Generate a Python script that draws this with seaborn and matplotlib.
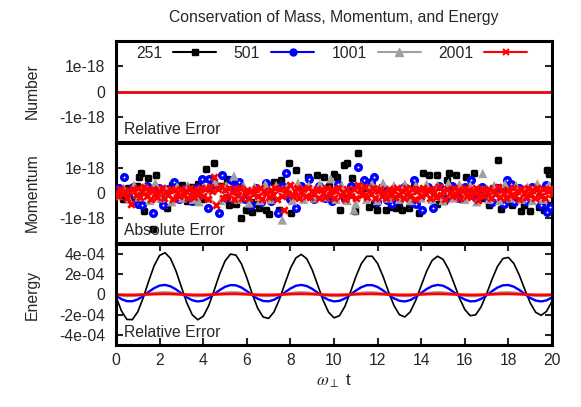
import numpy as np
import pandas as pd
import matplotlib
matplotlib.use("Agg")
import matplotlib.pyplot as plt
from matplotlib.lines import Line2D
import seaborn as sns

# ---------------- data ----------------
SERIES = ["251", "501", "1001", "2001"]
COLORS = {"251": "#000000", "501": "#0000ff", "1001": "#a0a0a0", "2001": "#ff0000"}

X_TICKS = [0, 2, 4, 6, 8, 10, 12, 14, 16, 18, 20]
MASS_TICKS = [-1e-18, 0, 1e-18]
MASS_TICK_LABELS = ["-1e-18", "0", "1e-18"]
ENERGY_TICKS = [-4e-4, -2e-4, 0, 2e-4, 4e-4]
ENERGY_TICK_LABELS = ["-4e-04", "-2e-04", "0", "2e-04", "4e-04"]

# Number (relative error): identically zero for all resolutions
NUMBER_T = [0, 20]
NUMBER_251 = [0.0, 0.0]
NUMBER_501 = [0.0, 0.0]
NUMBER_1001 = [0.0, 0.0]
NUMBER_2001 = [0.0, 0.0]

# Energy relative error, in units of 1e-4, sampled every 0.25
ENERGY_T = np.linspace(0, 20, 81)
ENERGY_251 = [-0.21, -1.63, -2.47, -2.49, -1.71, -0.32, 1.33, 2.85, 3.87, 4.13,
              3.57, 2.34, 0.74, -0.84, -2.01, -2.50, -2.16, -1.12, 0.40, 2.00,
              3.31, 4.00, 3.90, 3.05, 1.65, 0.05, -1.36, -2.23, -2.37, -1.72,
              -0.46, 1.10, 2.58, 3.62, 3.97, 3.54, 2.44, 0.95, -0.57, -1.75,
              -2.31, -2.10, -1.18, 0.22, 1.75, 3.04, 3.78, 3.79, 3.07, 1.79,
              0.29, -1.09, -2.00, -2.22, -1.71, -0.58, 0.88, 2.31, 3.37, 3.79,
              3.48, 2.52, 1.14, -0.32, -1.49, -2.10, -2.01, -1.21, 0.06, 1.51,
              2.78, 3.56, 3.67, 3.07, 1.92, 0.51, -0.83, -1.76, -2.06, -1.67,
              -0.66]
ENERGY_501 = [-0.11, -0.46, -0.66, -0.67, -0.48, -0.14, 0.26, 0.63, 0.88, 0.95,
              0.81, 0.51, 0.11, -0.28, -0.57, -0.69, -0.61, -0.35, 0.03, 0.43,
              0.76, 0.93, 0.91, 0.70, 0.34, -0.06, -0.42, -0.64, -0.68, -0.52,
              -0.19, 0.21, 0.59, 0.86, 0.95, 0.84, 0.56, 0.17, -0.23, -0.54,
              -0.68, -0.63, -0.39, -0.02, 0.38, 0.72, 0.92, 0.93, 0.74, 0.40,
              -0.01, -0.38, -0.62, -0.69, -0.55, -0.24, 0.15, 0.54, 0.83, 0.95,
              0.87, 0.60, 0.22, -0.18, -0.50, -0.68, -0.65, -0.43, -0.08, 0.33,
              0.69, 0.91, 0.94, 0.77, 0.45, 0.05, -0.33, -0.60, -0.69, -0.58,
              -0.29]
ENERGY_1001 = [-0.03, -0.11, -0.16, -0.16, -0.12, -0.04, 0.06, 0.15, 0.21, 0.23,
               0.20, 0.12, 0.03, -0.07, -0.14, -0.17, -0.15, -0.09, 0.01, 0.10,
               0.18, 0.23, 0.22, 0.17, 0.08, -0.02, -0.10, -0.16, -0.17, -0.13,
               -0.05, 0.05, 0.14, 0.21, 0.23, 0.20, 0.13, 0.04, -0.06, -0.13,
               -0.17, -0.16, -0.10, -0.01, 0.09, 0.17, 0.22, 0.22, 0.18, 0.10,
               0.00, -0.09, -0.15, -0.17, -0.14, -0.06, 0.04, 0.13, 0.20, 0.23,
               0.21, 0.15, 0.05, -0.05, -0.12, -0.17, -0.16, -0.11, -0.02, 0.08,
               0.17, 0.22, 0.23, 0.19, 0.11, 0.01, -0.08, -0.15, -0.17, -0.14,
               -0.07]
ENERGY_2001 = [-0.005, -0.026, -0.038, -0.039, -0.027, -0.007, 0.018, 0.041, 0.056, 0.060,
               0.052, 0.033, 0.009, -0.015, -0.033, -0.040, -0.035, -0.019, 0.004, 0.028,
               0.048, 0.059, 0.058, 0.045, 0.023, -0.002, -0.024, -0.037, -0.039, -0.029,
               -0.010, 0.015, 0.038, 0.054, 0.060, 0.053, 0.036, 0.012, -0.012, -0.031,
               -0.040, -0.036, -0.022, 0.001, 0.025, 0.046, 0.058, 0.059, 0.047, 0.026,
               0.002, -0.021, -0.036, -0.040, -0.031, -0.013, 0.011, 0.035, 0.053, 0.060,
               0.055, 0.039, 0.016, -0.009, -0.029, -0.039, -0.038, -0.024, -0.003, 0.022,
               0.044, 0.057, 0.059, 0.049, 0.029, 0.005, -0.018, -0.035, -0.040, -0.033,
               -0.016]

# Momentum absolute error, in units of 1e-18
MOM_251_T = [0.10, 0.30, 0.55, 0.75, 0.95, 1.06, 1.13, 1.29, 1.47, 1.60, 1.72, 1.85, 2.05,
             2.36, 2.59, 2.80, 3.05, 3.25, 3.43, 3.74, 3.95, 4.12, 4.30, 4.50, 4.80, 5.11,
             5.19, 5.50, 5.73, 5.95, 6.04, 6.20, 6.25, 6.50, 6.56, 6.87, 6.90, 7.02, 7.25,
             7.48, 7.55, 7.94, 8.01, 8.27, 8.50, 8.82, 9.05, 9.24, 9.54, 9.75, 10.00, 10.15,
             10.26, 10.46, 10.61, 10.81, 10.96, 11.11, 11.35, 11.60, 11.83, 11.99, 12.20,
             12.37, 12.60, 12.83, 12.98, 13.13, 13.44, 13.65, 13.90, 14.10, 14.36, 14.71,
             14.74, 15.05, 15.20, 15.28, 15.58, 15.85, 16.04, 16.42, 16.70, 16.90, 17.11,
             17.30, 17.54, 17.65, 17.90, 18.18, 18.56, 18.72, 18.99, 19.20, 19.40, 19.63,
             19.79, 19.86, 19.90]
MOM_251_V = [0.15, -0.25, 0.20, -0.30, 0.30, 0.64, 0.81, -0.70, 0.61, 0.20, -1.45, 0.71, -0.25,
             -0.61, 0.31, -0.20, 0.31, -0.30, 0.24, 0.37, -0.25, 0.95, 0.20, 1.21, 0.30, 0.57,
             -0.49, -0.43, -1.00, -0.68, -0.69, -0.36, -0.75, -0.43, -0.61, -0.68, 0.33, -0.83, 0.44,
             -0.69, 0.51, 1.21, -0.80, 0.91, 0.25, 0.64, -0.20, 0.71, 0.64, 0.30, 0.77, 0.64,
             -0.69, 1.11, 1.21, 0.60, -0.72, 1.61, 0.20, -0.56, -0.43, -0.69, 0.25,
             -0.69, -0.56, -0.61, -0.56, -0.68, -0.60, 0.25, -0.80, 0.81, 0.71, -0.43,
             0.71, -0.33, 0.51, 0.81, 0.72, -0.25, 0.64, 0.81, 0.15, -0.20, -0.49,
             0.20, 1.31, -0.63, 0.25, -0.48, -0.73, -0.49, -0.73, 0.20, -0.55, -0.69,
             0.91, 0.77, -0.49]

MOM_501_T = [0.15, 0.37, 0.60, 0.80, 1.00, 1.21, 1.40, 1.71, 1.95, 2.17, 2.40, 2.66, 2.90,
             3.20, 3.50, 3.75, 3.96, 4.23, 4.27, 4.50, 4.72, 4.88, 5.05, 5.26, 5.45, 5.64,
             5.90, 6.18, 6.40, 6.64, 6.87, 7.10, 7.45, 7.60, 7.78, 8.00, 8.24, 8.50, 8.85,
             9.08, 9.30, 9.60, 9.92, 10.20, 10.50, 10.80, 11.11, 11.38, 11.68, 11.83, 11.99,
             12.20, 12.45, 12.68, 12.98, 13.20, 13.52, 13.67, 13.75, 14.05, 14.30, 14.56,
             14.80, 15.10, 15.40, 15.70, 16.00, 16.27, 16.50, 16.80, 17.05, 17.26, 17.50,
             17.80, 17.95, 18.10, 18.26, 18.50, 18.80, 19.10, 19.48, 19.71, 19.79, 19.90]
MOM_501_V = [0.20, 0.65, -0.20, 0.25, -0.43, -0.49, 0.30, -0.79, 0.20, -0.49, 0.15, 0.44, -0.25,
             0.20, -0.30, 0.25, 0.55, -0.60, 0.57, 0.37, -0.79, 0.71, -0.20, 0.51, 0.25, 0.44,
             -0.25, -0.49, 0.20, -0.36, 0.41, -0.30, -0.79, 0.30, 0.81, -0.25, -0.60, 0.30, 0.57,
             -0.23, 0.30, -0.20, -0.33, 0.35, -0.25, 0.30, 1.04, 0.51, 0.44, 0.64, -0.36,
             0.20, -0.29, -0.43, -0.29, 0.25, -0.36, 0.51, -0.43, -0.69, 0.25, -0.60,
             0.30, -0.25, 0.30, -0.20, 0.25, 0.51, -0.20, 0.25, -0.25, -0.36, 0.20,
             -0.43, 0.51, 0.37, -0.36, 0.20, -0.30, 0.25, -0.49, 0.33, -0.76, -0.56]

MOM_1001_T = [0.10, 0.35, 0.60, 0.83, 1.05, 1.30, 1.55, 1.80, 2.05, 2.30, 2.55, 2.80, 3.05,
              3.30, 3.55, 3.81, 4.05, 4.30, 4.55, 4.80, 5.05, 5.41, 5.60, 5.85, 6.10, 6.35,
              6.60, 6.85, 7.10, 7.35, 7.63, 7.85, 8.10, 8.35, 8.60, 8.85, 9.10, 9.35, 9.60,
              9.85, 10.10, 10.35, 10.60, 10.92, 11.00, 11.25, 11.50, 11.75, 12.00, 12.25,
              12.50, 12.75, 13.00, 13.25, 13.50, 13.75, 14.00, 14.25, 14.50, 14.75, 15.00,
              15.25, 15.50, 15.75, 16.00, 16.25, 16.55, 16.82, 17.10, 17.35, 17.60, 17.85,
              18.10, 18.35, 18.60, 18.87, 19.10, 19.33, 19.60, 19.85]
MOM_1001_V = [-0.10, 0.20, -0.25, 0.31, -0.15, 0.25, -0.30, 0.40, -0.20, 0.15, -0.35, 0.25, -0.20,
              0.30, -0.25, -0.35, 0.25, -0.20, 0.45, -0.30, 0.30, 0.68, -0.25, 0.30, -0.40, 0.25,
              -0.30, 0.35, -0.25, 0.30, -1.08, 0.25, -0.30, 0.40, -0.25, 0.30, -0.20, 0.35, -0.15,
              0.57, -0.25, 0.30, -0.30, -0.68, -0.43, 0.30, -0.25, 0.35, -0.30, 0.40,
              -0.20, 0.30, -0.25, 0.35, -0.30, 0.30, -0.20, 0.35, -0.25, 0.30, -0.30,
              0.40, -0.20, 0.35, -0.25, 0.30, -0.35, 0.78, -0.25, 0.30, -0.30, 0.35,
              -0.20, 0.30, -0.25, 0.24, -0.30, 0.37, -0.25, 0.30]

MOM_2001_T = np.linspace(0, 20, 201)
MOM_2001_V = [0.05, -0.12, 0.18, -0.05, 0.10, -0.20, 0.08, -0.43, 0.15, -0.08,
              0.22, -0.15, 0.05, 0.25, -0.10, 0.12, -0.22, 0.18, 0.02, -0.14,
              0.10, 0.20, -0.18, 0.06, -0.08, 0.15, -0.25, 0.12, 0.00, -0.12,
              0.18, -0.06, 0.10, -0.20, 0.22, 0.04, -0.15, 0.12, -0.05, 0.20,
              -0.10, 0.15, -0.22, 0.25, 0.08, 0.64, -0.49, 0.18, 0.30, -0.20,
              0.12, -0.15, 0.20, 0.05, -0.25, 0.15, -0.08, 0.22, -0.18, 0.06,
              0.14, -0.20, 0.08, -0.05, 0.18, -0.12, 0.20, -0.22, 0.10, 0.02,
              -0.15, 0.12, -0.08, 0.20, -0.25, 0.15, -0.10, -0.69, 0.18, -0.05,
              0.31, -0.12, 0.08, 0.20, -0.18, 0.05, 0.15, -0.10, 0.22, -0.15,
              0.10, -0.05, 0.18, -0.20, 0.12, 0.02, -0.15, 0.20, -0.08, 0.14,
              -0.18, 0.10, 0.22, -0.12, 0.06, -0.22, 0.18, 0.00, -0.10, 0.15,
              -0.20, 0.31, 0.12, -0.08, 0.25, -0.15, 0.10, -0.05, 0.20, -0.18,
              0.08, 0.15, -0.12, 0.05, -0.20, 0.18, -0.06, 0.12, -0.15, 0.22,
              -0.08, 0.10, -0.18, 0.20, 0.02, -0.12, 0.15, -0.22, 0.08, 0.18,
              -0.10, 0.22, -0.05, 0.12, -0.20, 0.15, 0.05, -0.15, 0.25, -0.08,
              0.10, -0.22, 0.18, 0.00, -0.12, 0.20, -0.06, 0.14, -0.18, 0.08,
              0.20, -0.10, 0.12, -0.15, 0.05, 0.22, -0.29, -0.08, 0.18, -0.12,
              0.06, 0.15, -0.20, 0.10, -0.05, 0.25, -0.15, 0.12, 0.02, -0.18,
              0.14, -0.08, 0.20, -0.12, 0.08, -0.22, 0.16, 0.00, -0.15, 0.22,
              -0.06, 0.12, -0.18, 0.20, 0.05, -0.12, 0.18, -0.20, 0.10, 0.15,
              -0.05]

E_UNIT = 1e-4
M_UNIT = 1e-18

# ---------------- style ----------------
sns.set_style("white")
FS = 11.3
plt.rcParams["font.family"] = ["Liberation Sans", "DejaVu Sans"]
plt.rcParams["font.size"] = FS
plt.rcParams["mathtext.fontset"] = "stix"

fig = plt.figure(figsize=(5.81, 4.07), dpi=100)
W, H = 581, 407
x0, x1 = 116, 552


def make_ax(top, bottom):
    return fig.add_axes([x0 / W, 1 - bottom / H, (x1 - x0) / W, (bottom - top) / H])


ax1 = make_ax(41, 142)
ax2 = make_ax(143, 243)
ax3 = make_ax(244, 345)

# Number panel
number = {"251": NUMBER_251, "501": NUMBER_501, "1001": NUMBER_1001, "2001": NUMBER_2001}
for s in SERIES:
    df = pd.DataFrame({"t": NUMBER_T, "err": np.array(number[s]) * M_UNIT})
    sns.lineplot(data=df, x="t", y="err", color=COLORS[s], linewidth=1.8, ax=ax1)

# Momentum panel
mom_specs = [
    ("251", MOM_251_T, MOM_251_V, dict(marker="s", s=12, facecolor="white", edgecolor="black", linewidth=2.5)),
    ("501", MOM_501_T, MOM_501_V, dict(marker="o", s=16, facecolor="white", edgecolor="#0000ff", linewidth=2.5)),
    ("1001", MOM_1001_T, MOM_1001_V, dict(marker="^", s=45, color="#a0a0a0", edgecolor="none", linewidth=0)),
    ("2001", MOM_2001_T, MOM_2001_V, dict(marker="x", s=22, color="#ff0000", linewidth=2.0)),
]
for s, tt, vv, kw in mom_specs:
    df = pd.DataFrame({"t": tt, "err": np.array(vv) * M_UNIT})
    sns.scatterplot(data=df, x="t", y="err", ax=ax2, legend=False, zorder=3, **kw)

# Energy panel
energy = {"251": ENERGY_251, "501": ENERGY_501, "1001": ENERGY_1001, "2001": ENERGY_2001}
e_lw = {"251": 1.2, "501": 1.7, "1001": 1.6, "2001": 2.0}
for s in SERIES:
    df = pd.DataFrame({"t": ENERGY_T, "err": np.array(energy[s]) * E_UNIT})
    sns.lineplot(data=df, x="t", y="err", color=COLORS[s], linewidth=e_lw[s], ax=ax3)

# axes cosmetics
for ax in (ax1, ax2, ax3):
    ax.set_xlim(0, 20)
    for sp in ax.spines.values():
        sp.set_linewidth(2.2)
        sp.set_color("black")
    ax.tick_params(axis="y", direction="in", left=True, right=True, length=5,
                   width=1.5, labelsize=FS, pad=8)
    ax.set_xlabel("")

for ax in (ax1, ax2):
    ax.set_ylim(-2e-18, 2e-18)
    ax.set_yticks(MASS_TICKS)
    ax.set_yticklabels(MASS_TICK_LABELS)
    ax.tick_params(axis="x", bottom=False, top=False, labelbottom=False)

ax3.set_ylim(-5e-4, 5e-4)
ax3.set_yticks(ENERGY_TICKS)
ax3.set_yticklabels(ENERGY_TICK_LABELS)
ax3.set_xticks(X_TICKS)
ax3.set_xticklabels([str(v) for v in X_TICKS])
ax3.tick_params(axis="x", direction="in", bottom=True, top=True, length=5, width=1.5,
                labelsize=FS, pad=6)
ax3.set_xlabel(r"$\omega_{\perp}$ t", fontsize=FS + 1, labelpad=3)

for ax, lab in ((ax1, "Number"), (ax2, "Momentum"), (ax3, "Energy")):
    ax.set_ylabel(lab, fontsize=FS)
    ax.yaxis.set_label_coords(-0.175, 0.5)

ax1.text(0.018, 0.05, "Relative Error", transform=ax1.transAxes, fontsize=FS, va="bottom")
ax2.text(0.018, 0.05, "Absolute Error", transform=ax2.transAxes, fontsize=FS, va="bottom")
ax3.text(0.018, 0.05, "Relative Error", transform=ax3.transAxes, fontsize=FS, va="bottom")

fig.text((x0 + x1) / 2 / W, 1 - 17.5 / H, "Conservation of Mass, Momentum, and Energy",
         ha="center", va="center", fontsize=FS)

handles = [
    Line2D([], [], color="black", lw=1.5, marker="s", ms=5, mfc="black", mec="black"),
    Line2D([], [], color="#0000ff", lw=1.5, marker="o", ms=5, mfc="#0000ff", mec="#0000ff"),
    Line2D([], [], color="#a0a0a0", lw=1.5, marker="^", ms=6, mfc="#a0a0a0", mec="#a0a0a0"),
    Line2D([], [], color="#ff0000", lw=1.5, marker="x", ms=5, mew=1.5),
]
ax1.legend(handles, SERIES, loc="upper center", bbox_to_anchor=(0.495, 1.0), ncol=4,
           frameon=False, markerfirst=False, handlelength=2.75, handletextpad=0.7,
           columnspacing=1.1, borderaxespad=0.1, borderpad=0.2, fontsize=FS, numpoints=1)

fig.savefig("out.png", dpi=100)
